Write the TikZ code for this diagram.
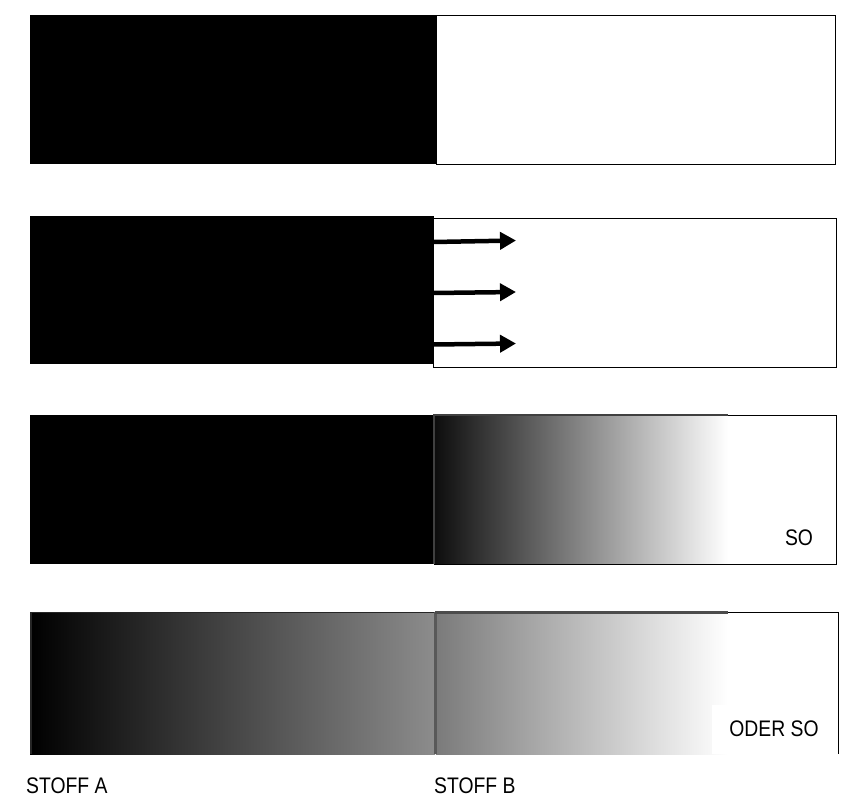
\documentclass[tikz,border=0pt]{standalone}
\usepackage{fontspec}
\newfontfamily\labfont[FakeStretch=0.86]{Liberation Sans}
\usetikzlibrary{arrows.meta}
\begin{document}
\begin{tikzpicture}[x=1pt,y=-1pt,
  solid black/.style={fill=black,draw=none},
  boxline/.style={draw=black,line width=1pt},
  flow/.style={line width=4.5pt,-{Triangle[length=16pt,width=17pt]}},
  lab/.style={font=\labfont\fontsize{22.5}{24}\selectfont,inner sep=0pt,text=black}]
\useasboundingbox[fill=white] (0,0) rectangle (864,806);
% Panel 1
\draw[boxline] (436,15.5) rectangle (835,164);
\fill[solid black] (30,15) rectangle (437,164);
% Panel 2
\draw[boxline] (433.5,218.5) rectangle (836,367);
\fill[solid black] (30,216) rectangle (434,364);
\coordinate (a1s) at (433,242); \coordinate (a1e) at (516,240.5);
\coordinate (a2s) at (433,293); \coordinate (a2e) at (516,292);
\coordinate (a3s) at (433,344.5); \coordinate (a3e) at (516,343.5);
\draw[flow] (a1s) -- (a1e);
\draw[flow] (a2s) -- (a2e);
\draw[flow] (a3s) -- (a3e);
% Panel 3
\fill[solid black] (30,415) rectangle (434,564);
\shade[left color=black!95,right color=white] (434,415) rectangle (728,564);
\draw[line width=1.5pt,black!75] (434,564) -- (434,415) -- (728,415);
\draw[boxline] (728,415.5) -- (836,415.5) -- (836,564) -- (434,564);
\node[lab] (so) at (799,538) {SO};
% Panel 4
\shade[left color=black,right color=black!45] (30,612) rectangle (435,754);
\shade[left color=black!52,right color=white] (436,612) rectangle (728,754);
\draw[line width=1.5pt,black!85] (31,754) -- (31,612.5) -- (435,612.5);
\draw[line width=3pt,black!65] (435,612) -- (435,754);
\draw[line width=2.5pt,black!70] (435,612.5) -- (728,612.5);
\draw[boxline] (728,612.5) -- (838,612.5) -- (838,754);
\fill[white] (712,705) rectangle (837.5,754);
\node[lab] (oderso) at (774,729) {ODER SO};
% Labels
\node[lab,anchor=west] (stoffa) at (26,786) {STOFF A};
\node[lab,anchor=west] (stoffb) at (434,786) {STOFF B};
\end{tikzpicture}
\end{document}
